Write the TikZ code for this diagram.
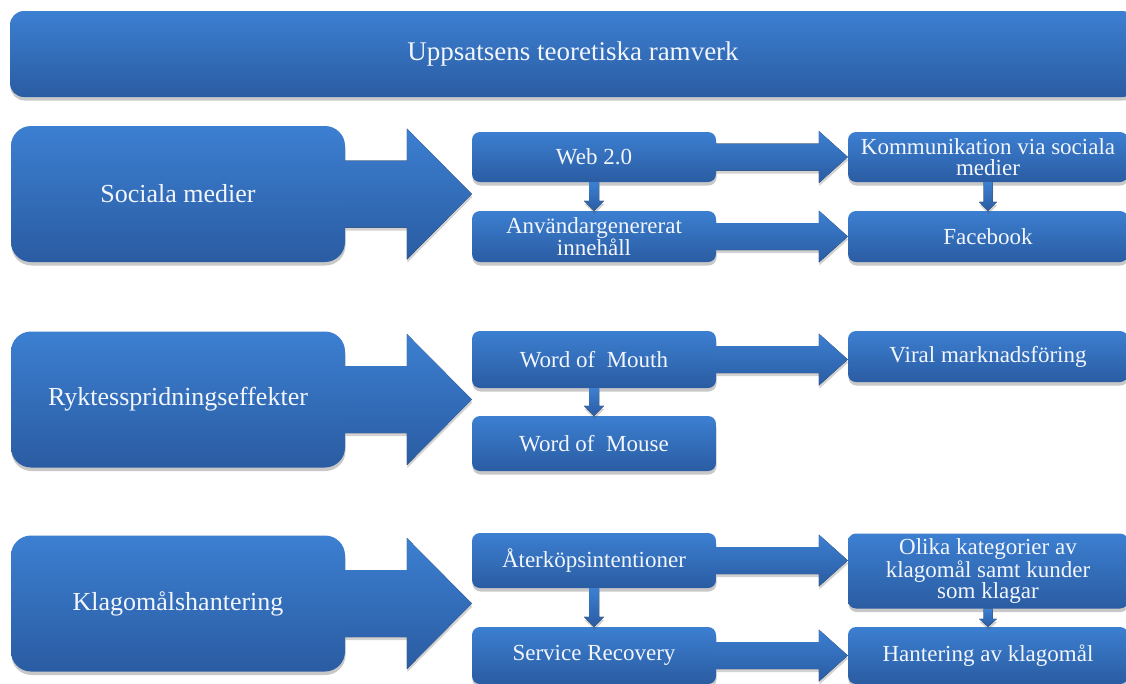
\documentclass[tikz,border=0pt]{standalone}
\usepackage{fontspec}
\setmainfont{Liberation Serif}
\usetikzlibrary{calc,shadows}
\definecolor{boxtop}{RGB}{60,127,209}
\definecolor{boxbot}{RGB}{42,92,162}
\definecolor{txtc}{RGB}{242,246,252}
\tikzset{
  base/.style={draw=none, top color=boxtop, bottom color=boxbot, text=txtc, align=center, inner sep=2pt,
    drop shadow={shadow xshift=0.5pt, shadow yshift=-3.5pt, opacity=0.3, fill=black!70}},
  bigbox/.style={base, rounded corners=20pt, minimum width=334pt, minimum height=136pt,
    font=\fontsize{26}{28}\selectfont},
  midbox/.style={base, rounded corners=8pt, minimum width=244pt,
    font=\fontsize{23}{21}\selectfont},
  rightbox/.style={base, rounded corners=8pt, minimum width=280pt,
    font=\fontsize{23}{21}\selectfont},
  banner/.style={base, rounded corners=14pt, minimum width=1126pt, minimum height=86pt,
    font=\fontsize{27}{29}\selectfont},
  arrowfill/.style={top color=boxtop, bottom color=boxbot,
    drop shadow={shadow xshift=0.5pt, shadow yshift=-3pt, opacity=0.25, fill=black!70}}
}
% horizontal block arrow: source, target, shaft half, head half, head length
\newcommand\blockR[5]{%
  \fill[arrowfill] let \p1=(#1), \p2=(#2) in
    (\x1,{\y1+#3}) -- ({\x2-#5},{\y1+#3}) -- ({\x2-#5},{\y1+#4}) -- (\x2,\y1)
    -- ({\x2-#5},{\y1-#4}) -- ({\x2-#5},{\y1-#3}) -- (\x1,{\y1-#3}) -- cycle;}
% vertical block arrow (downwards)
\newcommand\blockD[5]{%
  \fill[arrowfill] let \p1=(#1), \p2=(#2) in
    ({\x1-#3},\y1) -- ({\x1-#3},{\y2+#5}) -- ({\x1-#4},{\y2+#5}) -- (\x1,\y2)
    -- ({\x1+#4},{\y2+#5}) -- ({\x1+#3},{\y2+#5}) -- ({\x1+#3},\y1) -- cycle;}
\begin{document}
\begin{tikzpicture}[x=1pt,y=-1pt]
\useasboundingbox (0,0) rectangle (1126,683);
\fill[white] (0,0) rectangle (1126,683);
\clip (0,0) rectangle (1126,683);

\node[banner] (ban) at (573,54) {Uppsatsens teoretiska ramverk};

\node[bigbox] (soc) at (178,194) {Sociala medier};
\node[bigbox] (ryk) at (178,399.5) {Ryktesspridningseffekter};
\node[bigbox] (kla) at (178,603.5) {Klagomålshantering};

\node[midbox, minimum height=50pt] (web) at (594,157) {Web 2.0};
\node[midbox, minimum height=51pt] (anv) at (594,236.5) {Användargenererat\\innehåll};
\node[midbox, minimum height=57pt] (wom) at (594,359.5) {Word of~ Mouth};
\node[midbox, minimum height=55pt] (wms) at (594,443.5) {Word of~ Mouse};
\node[midbox, minimum height=55pt] (ate) at (594,560.5) {Återköpsintentioner};
\node[midbox, minimum height=57pt] (ser) at (594,655.5) {Service Recovery};

\node[rightbox, minimum height=50pt] (kom) at (988,157) {Kommunikation via sociala\\medier};
\node[rightbox, minimum height=51pt] (fac) at (988,236.5) {Facebook};
\node[rightbox, minimum height=51pt] (vir) at (988,356.5) {Viral marknadsföring};
\node[rightbox, minimum height=75pt] (oli) at (988,571) {Olika kategorier av\\klagomål samt kunder\\som klagar};
\node[rightbox, minimum height=57pt] (han) at (988,655.5) {Hantering av klagomål};

% big arrows
\blockR{soc.east}{web.west}{33.5pt}{65.5pt}{65pt}
\blockR{ryk.east}{wom.west}{33.5pt}{65.5pt}{65pt}
\blockR{kla.east}{ate.west}{33.5pt}{65.5pt}{65pt}

% middle to right arrows
\blockR{web.east}{kom.west}{13.5pt}{26pt}{29pt}
\blockR{anv.east}{fac.west}{13.5pt}{26pt}{29pt}
\blockR{wom.east}{vir.west}{13.5pt}{26pt}{29pt}
\blockR{ate.east}{oli.west}{13.5pt}{26pt}{29pt}
\blockR{ser.east}{han.west}{13.5pt}{26pt}{29pt}

% down arrows
\blockD{web.south}{anv.north}{5pt}{10pt}{10pt}
\blockD{wom.south}{wms.north}{5pt}{10pt}{10pt}
\blockD{ate.south}{ser.north}{5pt}{10pt}{10pt}
\blockD{kom.south}{fac.north}{4.5pt}{9pt}{9pt}
\blockD{oli.south}{han.north}{4.5pt}{9pt}{8pt}
\end{tikzpicture}
\end{document}
